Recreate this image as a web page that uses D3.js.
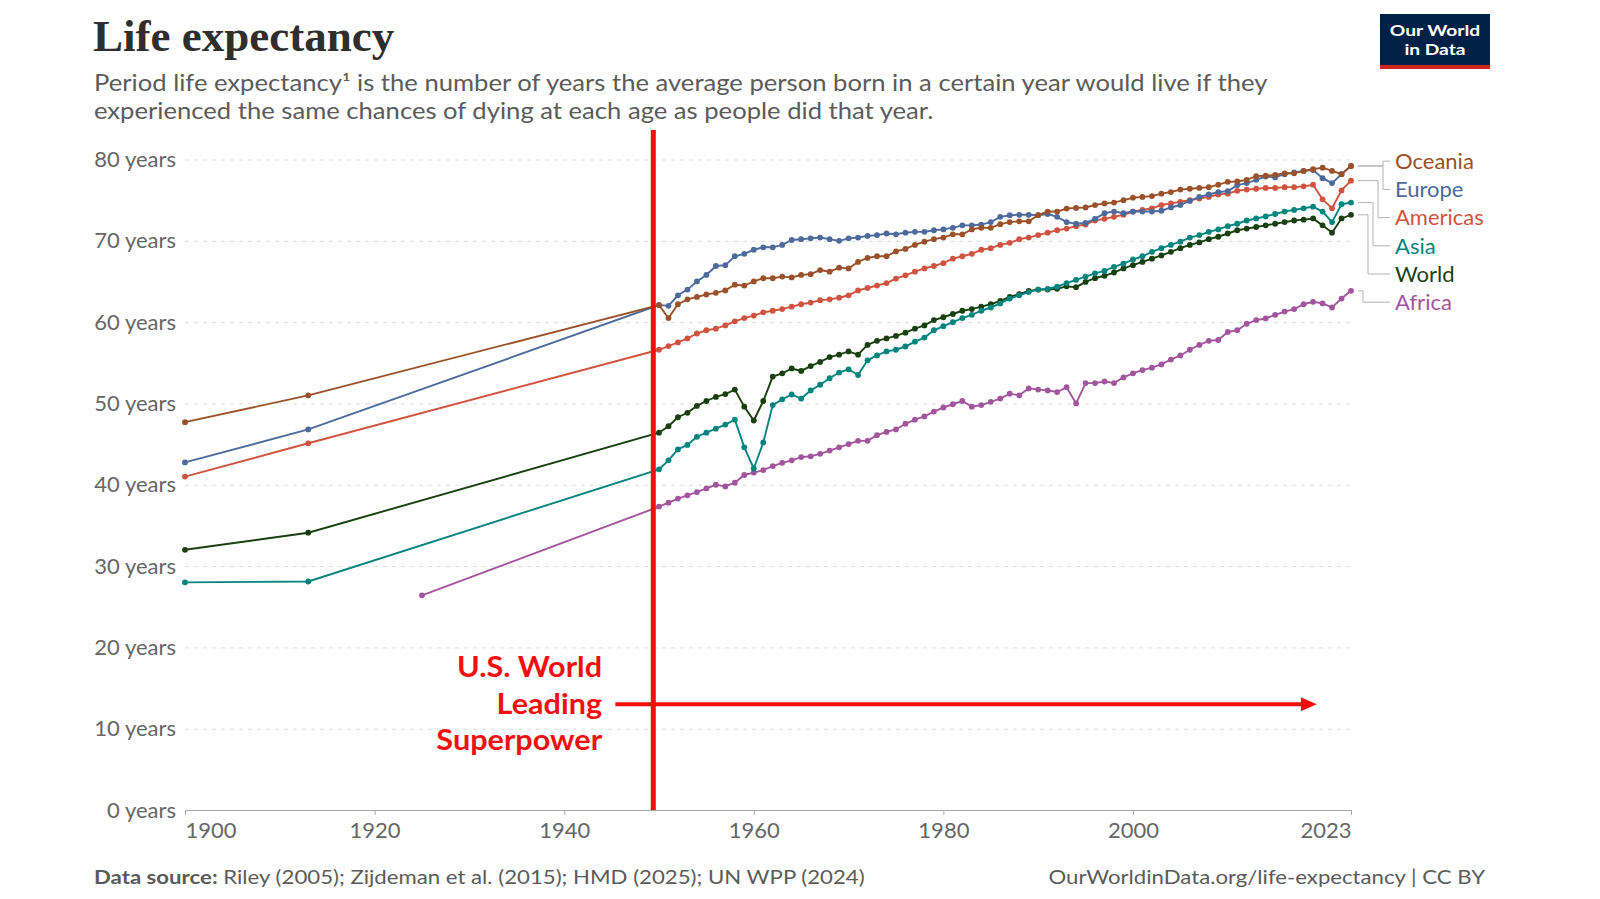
<!DOCTYPE html>
<html>
<head>
<meta charset="utf-8">
<style>
  body { margin: 0; background: #fff; }
  svg { display: block; font-family: Lato, "Noto Sans", sans-serif; }
  .grid .domain { display: none; }
  .grid line { stroke: #dcdcdc; stroke-dasharray: 4,5; }
  .xaxis .domain, .xaxis line { stroke: #a8a8a8; }
</style>
</head>
<body>
<svg width="1600" height="899"></svg>
<script src="https://cdn.jsdelivr.net/npm/d3@7/dist/d3.min.js"></script>
<script>
// annual values 1950-2023, plus the sparse historical points before 1950
var years = d3.range(1950, 2024);
var earlyYears = [1900, 1913];
var africaEarlyYears = [1925];

var oceaniaEarly = [47.7, 51.0];
var oceania = [62.1, 60.5, 62.2, 62.8, 63.1, 63.4, 63.6, 63.9, 64.6, 64.5,
  65.0, 65.4, 65.4, 65.6, 65.5, 65.8, 65.9, 66.4, 66.2, 66.7,
  66.6, 67.4, 67.9, 68.1, 68.1, 68.7, 69.0, 69.5, 69.9, 70.2,
  70.4, 70.8, 70.8, 71.4, 71.6, 71.6, 72.05, 72.3, 72.4, 72.4,
  73.15, 73.6, 73.6, 73.97, 74.05, 74.1, 74.4, 74.6, 74.7, 75.0,
  75.3, 75.4, 75.5, 75.8, 76.0, 76.3, 76.4, 76.5, 76.6, 76.9,
  77.25, 77.3, 77.5, 77.95, 78.0, 78.1, 78.3, 78.3, 78.6, 78.8,
  79.0, 78.6, 78.2, 79.2];

var europeEarly = [42.75, 46.8];
var europe = [62.1, 62.0, 63.3, 64.0, 65.0, 65.8, 66.9, 67.0, 68.1, 68.4,
  68.9, 69.2, 69.2, 69.5, 70.1, 70.2, 70.3, 70.4, 70.2, 70.0,
  70.3, 70.4, 70.6, 70.7, 70.9, 70.8, 71.0, 71.1, 71.1, 71.3,
  71.4, 71.6, 71.9, 71.9, 72.0, 72.3, 72.95, 73.15, 73.2, 73.2,
  73.15, 73.3, 72.95, 72.3, 72.1, 72.2, 72.7, 73.4, 73.6, 73.4,
  73.6, 73.6, 73.6, 73.7, 74.1, 74.4, 74.9, 75.4, 75.7, 76.0,
  76.1, 76.85, 77.1, 77.5, 77.9, 77.8, 78.2, 78.4, 78.6, 78.7,
  77.7, 77.1, 78.2, 79.2];

var americasEarly = [41.0, 45.1];
var americas = [56.6, 57.05, 57.5, 58.0, 58.6, 59.0, 59.2, 59.6, 60.1, 60.5,
  60.8, 61.2, 61.4, 61.6, 61.9, 62.2, 62.4, 62.7, 62.8, 63.0,
  63.3, 63.9, 64.2, 64.5, 64.8, 65.35, 65.75, 66.2, 66.6, 66.9,
  67.25, 67.8, 68.1, 68.4, 68.9, 69.1, 69.5, 69.75, 70.2, 70.4,
  70.7, 71.0, 71.3, 71.5, 71.8, 72.0, 72.5, 72.7, 72.95, 73.2,
  73.6, 73.8, 74.0, 74.4, 74.6, 74.8, 75.0, 75.2, 75.4, 75.7,
  75.8, 76.15, 76.3, 76.4, 76.5, 76.5, 76.6, 76.6, 76.7, 76.9,
  75.1, 74.0, 76.2, 77.4];

var asiaEarly = [28.0, 28.1];
var asia = [41.9, 43.0, 44.35, 44.9, 45.9, 46.4, 46.9, 47.4, 48.0, 44.6,
  42.0, 45.2, 49.8, 50.5, 51.1, 50.6, 51.6, 52.3, 53.1, 53.8,
  54.2, 53.5, 55.3, 55.9, 56.4, 56.6, 57.0, 57.6, 58.1, 59.0,
  59.5, 60.0, 60.5, 60.9, 61.4, 61.8, 62.3, 62.9, 63.3, 63.7,
  64.0, 64.1, 64.35, 64.8, 65.2, 65.6, 66.0, 66.3, 66.8, 67.2,
  67.7, 68.1, 68.65, 69.1, 69.5, 69.9, 70.4, 70.7, 71.1, 71.4,
  71.8, 72.1, 72.5, 72.75, 73.0, 73.3, 73.6, 73.8, 74.0, 74.2,
  73.6, 72.3, 74.5, 74.7];

var worldEarly = [32.0, 34.1];
var world = [46.4, 47.2, 48.3, 48.85, 49.7, 50.3, 50.8, 51.15, 51.7, 49.6,
  47.9, 50.3, 53.3, 53.7, 54.3, 54.0, 54.6, 55.1, 55.7, 56.0,
  56.4, 56.0, 57.2, 57.7, 58.0, 58.3, 58.7, 59.2, 59.6, 60.25,
  60.6, 61.0, 61.4, 61.6, 61.9, 62.2, 62.6, 63.1, 63.45, 63.85,
  64.0, 64.0, 64.1, 64.4, 64.3, 64.95, 65.4, 65.7, 66.1, 66.6,
  67.0, 67.4, 67.8, 68.2, 68.65, 69.1, 69.5, 69.8, 70.2, 70.5,
  70.9, 71.3, 71.5, 71.7, 71.9, 72.1, 72.3, 72.5, 72.6, 72.75,
  71.9, 71.0, 72.75, 73.2];

var africaEarly = [26.4];
var africa = [37.3, 37.8, 38.3, 38.7, 39.1, 39.55, 40.0, 39.8, 40.25, 41.2,
  41.5, 41.8, 42.3, 42.7, 43.0, 43.4, 43.5, 43.8, 44.2, 44.6,
  45.0, 45.4, 45.4, 46.1, 46.5, 46.8, 47.5, 48.0, 48.4, 49.0,
  49.5, 49.9, 50.3, 49.6, 49.8, 50.2, 50.6, 51.2, 51.0, 51.85,
  51.7, 51.6, 51.4, 52.0, 50.0, 52.5, 52.5, 52.7, 52.5, 53.2,
  53.7, 54.1, 54.4, 54.8, 55.4, 55.9, 56.6, 57.2, 57.7, 57.8,
  58.8, 59.0, 59.8, 60.25, 60.45, 60.9, 61.3, 61.6, 62.2, 62.5,
  62.3, 61.8, 62.9, 63.85];

var xTicks = [1900, 1920, 1940, 1960, 1980, 2000, 2023];
var yTicks = [0, 10, 20, 30, 40, 50, 60, 70, 80];

var series = [
  {name: "Oceania",  color: "#9a5129", ey: earlyYears, ev: oceaniaEarly, v: oceania},
  {name: "Europe",   color: "#4c6a9c", ey: earlyYears, ev: europeEarly, v: europe},
  {name: "Americas", color: "#d0533f", ey: earlyYears, ev: americasEarly, v: americas},
  {name: "Asia",     color: "#00847e", ey: earlyYears, ev: asiaEarly, v: asia},
  {name: "World",    color: "#18400f", ey: earlyYears, ev: worldEarly, v: world},
  {name: "Africa",   color: "#a2559c", ey: africaEarlyYears, ev: africaEarly, v: africa}
];
series.forEach(function(s) {
  s.points = s.ey.map(function(yr, i) { return {year: yr, value: s.ev[i]}; })
    .concat(years.map(function(yr, i) { return {year: yr, value: s.v[i]}; }));
  s.last = s.points[s.points.length - 1];
});

var svg = d3.select("svg");
var x = d3.scaleLinear().domain([1900, 2023]).range([185, 1351]);
var y = d3.scaleLinear().domain([0, 80]).range([810, 159.5]);

// text in the reference is a little wider than the font, so stretch horizontally
function stretched(px, k) {
  return svg.append("g").attr("transform", "translate(" + px + ",0) scale(" + k + ",1)");
}

// header
svg.append("text")
    .attr("x", 93).attr("y", 51)
    .attr("font-family", "'Liberation Serif', 'DejaVu Serif', serif")
    .attr("font-weight", 700)
    .attr("font-size", 45)
    .attr("fill", "#2e2e2e")
    .text("Life expectancy");

var sub = stretched(94, 1.139).append("text")
    .attr("font-size", 22.5)
    .attr("fill", "#5b5b5b");
sub.append("tspan").attr("x", 0).attr("y", 91)
    .text("Period life expectancy\u00b9 is the number of years the average person born in a certain year would live if they");
sub.append("tspan").attr("x", 0).attr("y", 119)
    .text("experienced the same chances of dying at each age as people did that year.");

// logo
svg.append("rect").attr("x", 1380).attr("y", 14).attr("width", 110).attr("height", 55).attr("fill", "#002147");
svg.append("rect").attr("x", 1380).attr("y", 65).attr("width", 110).attr("height", 4).attr("fill", "#ce261e");
var logoText = stretched(1435, 1.2).append("text")
    .attr("text-anchor", "middle")
    .attr("font-size", 16).attr("font-weight", 700).attr("fill", "#fff");
logoText.append("tspan").attr("x", 0).attr("y", 36).text("Our World");
logoText.append("tspan").attr("x", 0).attr("y", 55.5).text("in Data");

// grid + y labels
var grid = svg.append("g")
    .attr("class", "grid")
    .attr("transform", "translate(" + x(1900) + ",0)")
    .call(d3.axisLeft(y).tickValues(yTicks).tickSize(-(x(2023) - x(1900))).tickPadding(9)
      .tickFormat(function(d) { return d + " years"; }));
grid.selectAll("text").attr("font-size", 22).attr("fill", "#666").attr("font-family", "Lato, sans-serif");
grid.selectAll(".tick").filter(function(d) { return d === 0; }).select("line").remove();

// x axis
var xaxis = svg.append("g")
    .attr("class", "xaxis")
    .attr("transform", "translate(0," + y(0) + ")")
    .call(d3.axisBottom(x).tickValues(xTicks).tickSize(5).tickFormat(d3.format("d")));
xaxis.selectAll("text")
    .attr("y", 20).attr("dy", "0.35em")
    .attr("font-size", 22).attr("fill", "#666").attr("font-family", "Lato, sans-serif");
xaxis.selectAll(".tick text").filter(function(d) { return d === 1900; }).attr("text-anchor", "start");
xaxis.selectAll(".tick text").filter(function(d) { return d === 2023; }).attr("text-anchor", "end");

// lines
var line = d3.line()
    .x(function(d) { return x(d.year); })
    .y(function(d) { return y(d.value); });

var drawOrder = series.slice().reverse();
var sg = svg.append("g").selectAll("g")
  .data(drawOrder)
  .join("g");
sg.append("path")
    .attr("d", function(s) { return line(s.points); })
    .attr("fill", "none")
    .attr("stroke", function(s) { return s.color; })
    .attr("stroke-width", 1.9);
sg.selectAll("circle")
  .data(function(s) { return s.points.map(function(p) { return {p: p, c: s.color}; }); })
  .join("circle")
    .attr("cx", function(d) { return x(d.p.year); })
    .attr("cy", function(d) { return y(d.p.value); })
    .attr("r", 2.9)
    .attr("fill", function(d) { return d.c; });

// legend labels with elbow connectors
var labelTop = y(80) + 1.7, labelStep = 28.2;
var ordered = series.slice().sort(function(a, b) { return b.last.value - a.last.value; });
var leg = svg.append("g").selectAll("g").data(ordered).join("g");
leg.append("path")
    .attr("d", function(s, i) {
      var ly = labelTop + i * labelStep;
      var ex = 1383 - 5 * Math.max(0, i - 1);
      return "M" + (x(2023) + 7) + "," + y(s.last.value) + "H" + ex + "V" + ly + "H" + 1390;
    })
    .attr("fill", "none")
    .attr("stroke", "#b3b3b3")
    .attr("stroke-width", 1);
leg.append("text")
    .attr("x", 1395)
    .attr("y", function(s, i) { return labelTop + i * labelStep; })
    .attr("dy", "0.35em")
    .attr("font-size", 22)
    .attr("fill", function(s) { return s.color; })
    .text(function(s) { return s.name; });

// annotation
var red = "#f40f0f";
svg.append("line")
    .attr("x1", x(1949.4)).attr("x2", x(1949.4))
    .attr("y1", 130).attr("y2", y(0))
    .attr("stroke", red).attr("stroke-width", 5);

var arrowY = y(13.0), arrowStart = x(1945.4), arrowTip = x(2019.4);
svg.append("line")
    .attr("x1", arrowStart).attr("x2", arrowTip - 12)
    .attr("y1", arrowY).attr("y2", arrowY)
    .attr("stroke", red).attr("stroke-width", 4);
svg.append("path")
    .attr("d", "M" + arrowTip + "," + arrowY + "L" + (arrowTip - 16) + "," + (arrowY - 7) + "L" + (arrowTip - 16) + "," + (arrowY + 7) + "Z")
    .attr("fill", red);

var note = stretched(x(1944.0), 1.094).append("text")
    .attr("text-anchor", "end")
    .attr("font-size", 28)
    .attr("font-weight", 700)
    .attr("fill", red);
[["U.S. World", 17.6], ["Leading", 13.0], ["Superpower", 8.6]].forEach(function(d) {
  note.append("tspan").attr("x", 0).attr("y", y(d[1])).attr("dy", "0.35em").text(d[0]);
});

// footer
var src = stretched(94, 1.139).append("text").attr("x", 0).attr("y", 884).attr("font-size", 19.5).attr("fill", "#5b5b5b");
src.append("tspan").attr("font-weight", 700).text("Data source:");
src.append("tspan").text(" Riley (2005); Zijdeman et al. (2015); HMD (2025); UN WPP (2024)");
stretched(1485, 1.138).append("text").attr("x", 0).attr("y", 884).attr("text-anchor", "end")
    .attr("font-size", 19.5).attr("fill", "#5b5b5b")
    .text("OurWorldinData.org/life-expectancy | CC BY");
</script>
</body>
</html>
